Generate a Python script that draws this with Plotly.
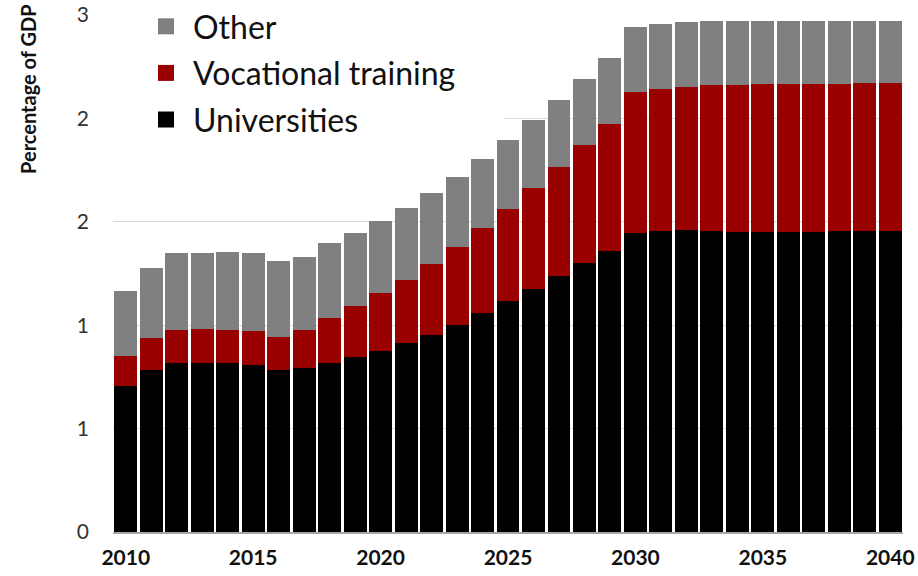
import plotly.graph_objects as go

years = list(range(2010, 2041))

universities = [
    0.708, 0.782, 0.816, 0.816, 0.816, 0.809, 0.785, 0.791, 0.819, 0.848,
    0.875, 0.912, 0.954, 1.002, 1.059, 1.115, 1.173, 1.236, 1.300, 1.361,
    1.445, 1.456, 1.461, 1.455, 1.453, 1.453, 1.453, 1.453, 1.455, 1.456,
    1.456,
]
vocational = [
    0.145, 0.154, 0.159, 0.166, 0.162, 0.161, 0.156, 0.184, 0.216, 0.243,
    0.279, 0.309, 0.340, 0.376, 0.411, 0.449, 0.490, 0.530, 0.570, 0.611,
    0.682, 0.688, 0.693, 0.705, 0.709, 0.711, 0.714, 0.714, 0.713, 0.714,
    0.715,
]
other = [
    0.310, 0.343, 0.375, 0.368, 0.377, 0.377, 0.369, 0.357, 0.362, 0.354,
    0.351, 0.347, 0.345, 0.339, 0.336, 0.332, 0.330, 0.325, 0.322, 0.319,
    0.315, 0.314, 0.312, 0.310, 0.311, 0.309, 0.306, 0.306, 0.305, 0.303,
    0.302,
]

series = [
    ("Universities", universities, "#000000"),
    ("Vocational training", vocational, "#990000"),
    ("Other", other, "#808080"),
]

y_ticks = [0, 0.5, 1.0, 1.5, 2.0, 2.5]
y_tick_text = ["0", "1", "1", "2", "2", "3"]
x_ticks = [2010, 2015, 2020, 2025, 2030, 2035, 2040]

FONT = "Lato, Carlito, Calibri, sans-serif"

fig = go.Figure()
for name, values, color in series:
    fig.add_trace(go.Bar(x=years, y=values, name=name, marker_color=color,
                         marker_line_width=0, showlegend=False))

# legend proxies with bigger square swatches
for name, _, color in reversed(series):
    fig.add_trace(go.Scatter(x=[None], y=[None], mode="markers", name=name,
                             marker=dict(symbol="square", size=19, color=color),
                             legendgroup=name))

W, H = 918, 576
L, R, T, B = 113, 15, 15, 43.5
plot_w, plot_h = W - L - R, H - T - B


def px_x(page_x):
    return (page_x - L) / plot_w


def px_y(page_y):
    return (H - B - page_y) / plot_h


fig.update_layout(
    width=W,
    height=H,
    barmode="stack",
    bargap=0.1,
    template="plotly_white",
    paper_bgcolor="white",
    plot_bgcolor="white",
    margin=dict(l=L, r=R, t=T, b=B, autoexpand=False),
    font=dict(family=FONT, size=17, color="#404040"),
    legend=dict(
        x=px_x(139),
        y=px_y(-1),
        xanchor="left",
        yanchor="top",
        bgcolor="rgba(0,0,0,0)",
        font=dict(family=FONT, size=32, color="#111111"),
        traceorder="grouped",
        tracegroupgap=2,
        itemsizing="trace",
        itemwidth=44,
    ),
    showlegend=True,
)

fig.update_xaxes(
    range=[2009.5, 2040.5],
    tickvals=x_ticks,
    tickfont=dict(family=FONT, size=21, color="#111111", weight="bold"),
    showgrid=False,
    zeroline=False,
    showline=True,
    linecolor="#a6a6a6",
    linewidth=2,
    ticks="",
    ticklabelstandoff=6,
    ticklabeloverflow="allow",
)
fig.update_yaxes(
    range=[0, 2.5],
    tickvals=y_ticks,
    ticktext=y_tick_text,
    tickfont=dict(family=FONT, size=21, color="#333333"),
    showgrid=True,
    gridcolor="#d9d9d9",
    gridwidth=1,
    zeroline=False,
    showline=False,
    ticks="",
    ticklabelstandoff=23,
    ticklabeloverflow="allow",
)

# white box behind the legend hiding the gridlines
fig.add_shape(
    type="rect", xref="paper", yref="paper", layer="above",
    x0=0, x1=px_x(504), y0=px_y(130), y1=1.02,
    fillcolor="white", line_width=0,
)

fig.add_annotation(
    text="<b>Percentage of GDP</b>",
    textangle=-90,
    xref="paper", yref="paper",
    x=px_x(28), y=px_y(89),
    xanchor="center", yanchor="middle",
    showarrow=False,
    font=dict(family=FONT, size=20, color="#111111"),
)

# drop the browser's default 8px body margin so the figure fills the window
fig.write_html(
    "out.html",
    config={"displayModeBar": False},
    post_script="document.body.style.margin = '0';",
)
